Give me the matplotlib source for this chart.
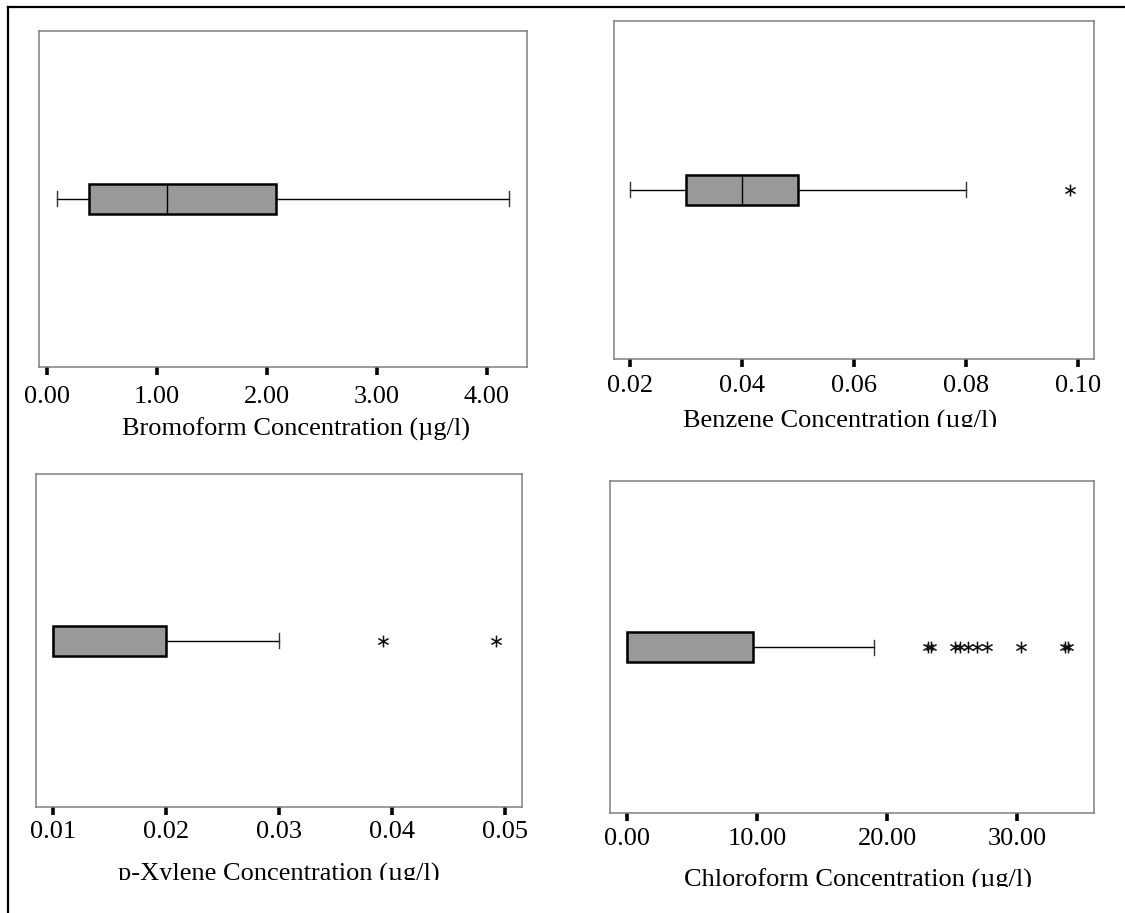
import numpy as np
import matplotlib
matplotlib.use("Agg")
import matplotlib.pyplot as plt
from matplotlib.lines import Line2D
from matplotlib.transforms import Bbox, TransformedBbox

plt.rcParams["font.family"] = ["Liberation Serif", "DejaVu Serif"]

W, H = 1125, 913

# ── data (five-number summaries + outliers) ─────────────────────────────────
names = ["Bromoform", "Benzene", "p-Xylene", "Chloroform"]

bromo_stats = [0.09, 0.38, 1.09, 2.08, 4.20]     # whislo, q1, med, q3, whishi
bromo_out = []

benz_stats = [0.020, 0.030, 0.040, 0.050, 0.080]
benz_out = [0.0985]

xyl_stats = [0.010, 0.010, 0.010, 0.020, 0.030]
xyl_out = [0.0392, 0.0492]

chl_stats = [0.0, 0.0, 0.0, 9.7, 19.0]
chl_out = [23.15, 23.35, 25.2, 25.6, 26.2, 26.9, 27.7, 30.3, 33.7, 33.9]

bromo_ticks = [0, 1, 2, 3, 4]
bromo_labels = ["0.00", "1.00", "2.00", "3.00", "4.00"]
benz_ticks = [0.02, 0.04, 0.06, 0.08, 0.10]
benz_labels = ["0.02", "0.04", "0.06", "0.08", "0.10"]
xyl_ticks = [0.01, 0.02, 0.03, 0.04, 0.05]
xyl_labels = ["0.01", "0.02", "0.03", "0.04", "0.05"]
chl_ticks = [0, 10, 20, 30]
chl_labels = ["0.00", "10.00", "20.00", "30.00"]

# ── layout (pixel boxes of the four panels) ─────────────────────────────────
panels = [
    # stats, outliers, ticks, labels, xlim, axes px box (x0, y0, x1, y1),
    # label x, label dy, tick pad, clip y
    (bromo_stats, bromo_out, bromo_ticks, bromo_labels, (-0.073, 4.364),
     (39, 31, 527, 367), 0.527, 62, 7.8, None),
    (benz_stats, benz_out, benz_ticks, benz_labels, (0.01714, 0.10286),
     (614, 21, 1094, 359), 0.47, 62, 5.6, 427),
    (xyl_stats, xyl_out, xyl_ticks, xyl_labels, (0.0085, 0.0515),
     (36, 474, 522, 807), 0.50, 67, 4.4, 880),
    (chl_stats, chl_out, chl_ticks, chl_labels, (-1.31, 35.9),
     (610, 481, 1094, 813), 0.512, 67, 5.0, 887),
]

fig = plt.figure(figsize=(W / 100, H / 100), dpi=100)

for name, (st, out, ticks, labels, xlim, box, lx, ldy, tpad, clip_y) in zip(names, panels):
    x0, y0, x1, y1 = box
    ax = fig.add_axes([x0 / W, 1 - y1 / H, (x1 - x0) / W, (y1 - y0) / H])
    ah = y1 - y0

    stats = [dict(whislo=st[0], q1=st[1], med=st[2], q3=st[3], whishi=st[4],
                  fliers=np.array(out))]
    ax.bxp(stats, positions=[1], widths=[30 / ah], orientation="horizontal",
           patch_artist=True, showfliers=True,
           boxprops=dict(facecolor="#999999", edgecolor="black", linewidth=1.8),
           medianprops=dict(color="black", linewidth=1.0),
           whiskerprops=dict(color="black", linewidth=1.0),
           capprops=dict(color="#333333", linewidth=1.0),
           flierprops=dict(marker=r"$\ast$", markersize=8.5, color="#111111",
                           markerfacecolor="#111111", markeredgecolor="#111111",
                           markeredgewidth=0.0, linestyle="none"))

    ax.set_xlim(*xlim)
    ax.set_ylim(0.5, 1.5)
    ax.set_yticks([])
    ax.set_xticks(ticks)
    ax.set_xticklabels(labels)
    ax.tick_params(axis="x", direction="out", length=6, width=2.6, color="black",
                   labelsize=19, pad=tpad)
    for sp in ax.spines.values():
        sp.set_color("#808080")
        sp.set_linewidth(1.1)

    ax.set_xlabel(f"{name} Concentration (µg/l)", fontsize=19)
    ax.xaxis.label.set_va("center")
    ax.xaxis.set_label_coords(lx, -ldy / ah)
    if clip_y is not None:
        # the source image cuts these labels through the middle
        cb = TransformedBbox(Bbox([[0, 1 - clip_y / H], [1, 1]]), fig.transFigure)
        ax.xaxis.label.set_clip_box(cb)
        ax.xaxis.label.set_clip_on(True)

# outer frame lines (top and left)
fig.add_artist(Line2D([8 / W, 1.0], [1 - 7 / H, 1 - 7 / H], color="black",
                      linewidth=1.6, transform=fig.transFigure))
fig.add_artist(Line2D([8 / W, 8 / W], [0.0, 1 - 7 / H], color="black",
                      linewidth=1.6, transform=fig.transFigure))

fig.savefig("out.png", dpi=100)
